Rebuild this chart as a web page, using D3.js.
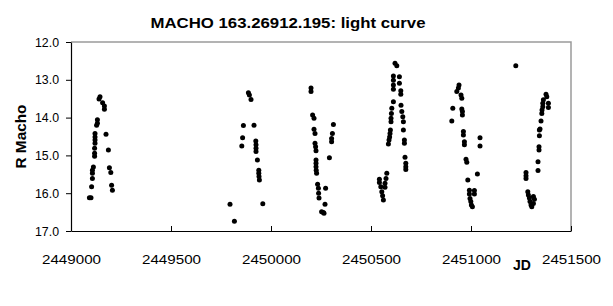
<!DOCTYPE html>
<html>
<head>
<meta charset="utf-8">
<script src="https://cdn.jsdelivr.net/npm/d3@7"></script>
<style>
  body { margin: 0; background: #fff; }
  text { font-family: Arial, "Liberation Sans", sans-serif; }
</style>
</head>
<body>
<svg id="chart"></svg>
<script>
// Julian dates and R magnitudes, season by season
const jd = [
  // 1993
  2449092, 2449100, 2449103, 2449107, 2449107, 2449107, 2449112, 2449118, 2449118, 2449118,
  2449120, 2449120, 2449120, 2449120, 2449128, 2449132, 2449132, 2449140, 2449145, 2449158,
  2449167, 2449167, 2449175, 2449187, 2449192, 2449199, 2449203, 2449207,
  // 1995
  2449795, 2449817, 2449854, 2449858, 2449862, 2449887, 2449892, 2449900, 2449915, 2449924,
  2449925, 2449925, 2449925, 2449932, 2449939, 2449939, 2449940, 2449942, 2449959,
  // 1996
  2450200, 2450200, 2450208, 2450215, 2450215, 2450220, 2450220, 2450223, 2450225, 2450225,
  2450225, 2450225, 2450226, 2450228, 2450233, 2450237, 2450238, 2450240, 2450253, 2450262,
  2450265, 2450270, 2450273, 2450292, 2450303, 2450303, 2450307, 2450312,
  // 1997
  2450542, 2450542, 2450549, 2450554, 2450558, 2450562, 2450570, 2450570, 2450575, 2450579,
  2450587, 2450590, 2450593, 2450595, 2450597, 2450600, 2450600, 2450602, 2450604, 2450612,
  2450612, 2450612, 2450612, 2450612, 2450620, 2450629, 2450642, 2450642, 2450649, 2450649,
  2450650, 2450654, 2450659, 2450662, 2450662, 2450667, 2450667, 2450670, 2450674, 2450674,
  2450674,
  // 1998
  2450904, 2450909, 2450929, 2450937, 2450940, 2450950, 2450954, 2450954, 2450957, 2450957,
  2450962, 2450962, 2450967, 2450967, 2450975, 2450979, 2450984, 2450992, 2450992, 2450995,
  2450999, 2451002, 2451007, 2451017, 2451017, 2451032, 2451045, 2451045,
  // 1999
  2451224, 2451275, 2451275, 2451275, 2451284, 2451287, 2451292, 2451295, 2451300, 2451304,
  2451312, 2451317, 2451312, 2451335, 2451335, 2451340, 2451340, 2451342, 2451342, 2451345,
  2451350, 2451354, 2451355, 2451359, 2451359, 2451362, 2451375, 2451379, 2451387, 2451387
];

const rMag = [
  16.12, 16.12, 15.83, 15.61, 15.47, 15.39, 15.31, 15.02, 14.94, 14.81,
  14.68, 14.59, 14.51, 14.42, 14.20, 14.15, 14.06, 13.51, 13.45, 13.61,
  13.69, 13.78, 14.44, 14.86, 15.33, 15.45, 15.79, 15.92,

  16.29, 16.74, 14.75, 14.53, 14.21, 13.34, 13.40, 13.52, 14.20, 14.62,
  14.72, 14.81, 14.90, 15.12, 15.39, 15.47, 15.56, 15.65, 16.28,

  13.22, 13.31, 13.93, 14.02, 14.31, 14.42, 14.68, 14.77, 14.88, 15.12,
  15.21, 15.30, 15.39, 15.47, 15.76, 15.87, 16.00, 16.13, 16.49, 16.51,
  16.53, 16.29, 15.87, 15.06, 14.64, 14.55, 14.42, 14.18,

  15.63, 15.72, 15.83, 15.96, 16.07, 16.18, 15.74, 15.84, 15.61, 15.47,
  14.70, 14.59, 14.51, 14.42, 14.33, 14.11, 14.02, 13.89, 13.75, 13.58,
  13.25, 13.14, 13.01, 12.90, 12.56, 12.63, 12.92, 13.09, 13.29, 13.38,
  13.67, 13.84, 13.98, 14.11, 14.33, 14.59, 14.68, 15.05, 15.21, 15.30,
  15.37,

  14.09, 13.75, 13.31, 13.22, 13.14, 13.40, 13.49, 13.77, 13.84, 13.93,
  14.37, 14.46, 14.64, 14.72, 15.10, 15.18, 15.65, 15.92, 16.02, 16.14,
  16.22, 16.31, 16.36, 15.93, 16.02, 15.49, 14.53, 14.75,

  12.63, 15.45, 15.54, 15.61, 15.96, 16.05, 16.13, 16.22, 16.31, 16.36,
  16.09, 16.16, 16.27, 15.17, 15.40, 14.77, 14.86, 14.48, 14.33, 14.30,
  14.09, 13.89, 13.80, 13.71, 13.62, 13.53, 13.38, 13.45, 13.62, 13.73
];

const xTicks = [2449000, 2449500, 2450000, 2450500, 2451000, 2451500];
const yTicks = [12, 13, 14, 15, 16, 17];

const dataset = jd.map((d, i) => ({ jd: d, mag: rMag[i] }));

const svgWidth = 613;
const svgHeight = 306;
const margin = { top: 42, right: 42, bottom: 75, left: 71 };
const plotW = svgWidth - margin.left - margin.right;
const plotH = svgHeight - margin.top - margin.bottom;

const svg = d3.select("#chart")
  .attr("width", svgWidth)
  .attr("height", svgHeight);

const g = svg.append("g")
  .attr("transform", `translate(${margin.left},${margin.top})`);

// scales (magnitude axis runs downward)
const xScale = d3.scaleLinear().domain([2449000, 2451500]).range([0, plotW]);
const yScale = d3.scaleLinear().domain([12, 17]).range([0, plotH]);

// plot frame, top and right edges are grey
g.append("path")
  .attr("d", `M0,0H${plotW}V${plotH}`)
  .attr("fill", "none")
  .attr("stroke", "#9a9a9a")
  .attr("stroke-width", 1.5);

// axes
const xAxis = d3.axisBottom(xScale)
  .tickValues(xTicks)
  .tickFormat(d3.format("d"))
  .tickSizeInner(-5)
  .tickSizeOuter(0)
  .tickPadding(24);

const yAxis = d3.axisLeft(yScale)
  .tickValues(yTicks)
  .tickFormat(d3.format(".1f"))
  .tickSizeInner(5)
  .tickSizeOuter(0)
  .tickPadding(7);

const gx = g.append("g").attr("transform", `translate(0,${plotH})`).call(xAxis);
const gy = g.append("g").call(yAxis);

[gx, gy].forEach(ax => {
  ax.select(".domain").attr("stroke", "#000").attr("stroke-width", 1.2);
  ax.selectAll(".tick line").attr("stroke", "#000");
  ax.selectAll(".tick text")
    .attr("fill", "#000")
    .style("font-size", "12.5px");
});
gx.selectAll(".tick text").attr("textLength", 59).attr("lengthAdjust", "spacingAndGlyphs");
gy.selectAll(".tick text").attr("textLength", 24).attr("lengthAdjust", "spacingAndGlyphs");

// data points
g.selectAll(".pt")
  .data(dataset)
  .enter()
  .append("circle")
  .attr("class", "pt")
  .attr("cx", d => xScale(d.jd))
  .attr("cy", d => yScale(d.mag))
  .attr("r", 2.5)
  .attr("fill", "#000");

// titles
svg.append("text")
  .attr("x", 288)
  .attr("y", 28)
  .attr("text-anchor", "middle")
  .attr("textLength", 275)
  .attr("lengthAdjust", "spacingAndGlyphs")
  .style("font-size", "14px")
  .style("font-weight", "bold")
  .text("MACHO 163.26912.195: light curve");

svg.append("text")
  .attr("transform", `translate(26,${margin.top + plotH / 2}) rotate(-90)`)
  .attr("text-anchor", "middle")
  .attr("textLength", 64)
  .attr("lengthAdjust", "spacingAndGlyphs")
  .style("font-size", "14px")
  .style("font-weight", "bold")
  .text("R Macho");

svg.append("text")
  .attr("x", 522)
  .attr("y", 270)
  .attr("text-anchor", "middle")
  .style("font-size", "14px")
  .style("font-weight", "bold")
  .text("JD");
</script>
</body>
</html>
